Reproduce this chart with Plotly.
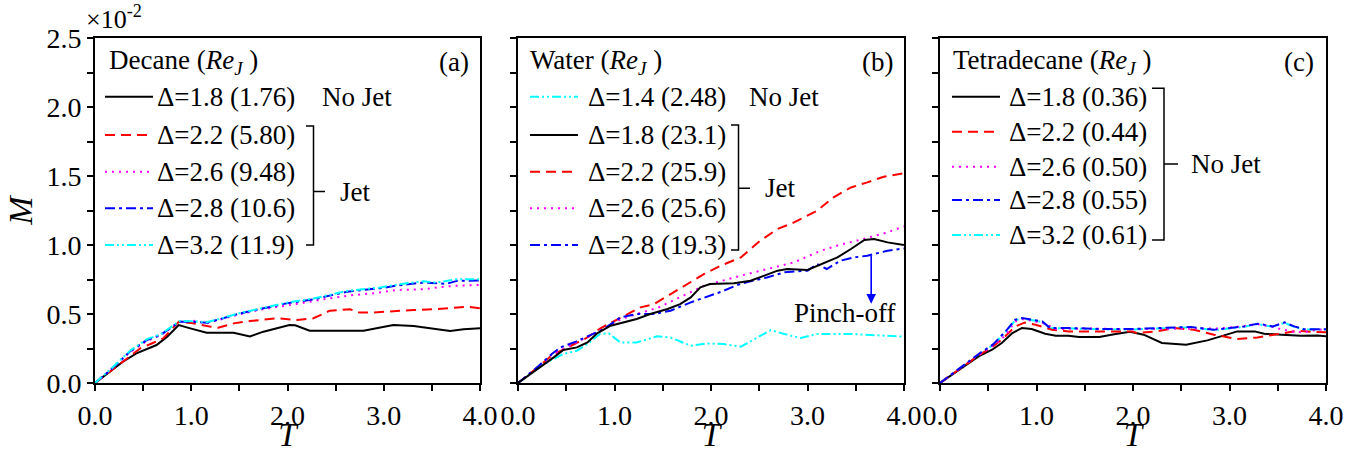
import plotly.graph_objects as go

# ---------------- data (M in units of 1e-2) ----------------
# Panel (a) Decane
a_T_18 = [0, 0.16, 0.29, 0.43, 0.54, 0.64, 0.75, 0.87, 0.99, 1.16, 1.44, 1.61, 1.75, 1.89, 2.02, 2.08, 2.23, 2.79, 2.95, 3.1, 3.31, 3.45, 3.69, 3.83, 4.0]
a_M_18 = [0, 0.082, 0.154, 0.215, 0.244, 0.275, 0.336, 0.42, 0.396, 0.364, 0.364, 0.338, 0.372, 0.396, 0.42, 0.418, 0.379, 0.379, 0.40, 0.42, 0.413, 0.401, 0.377, 0.39, 0.396]
a_T_22 = [0, 0.16, 0.3, 0.47, 0.6, 0.71, 0.87, 1.0, 1.19, 1.28, 1.44, 1.61, 1.89, 2.1, 2.27, 2.44, 2.65, 2.75, 2.86, 3.1, 3.31, 3.52, 3.72, 3.86, 4.0]
a_M_22 = [0, 0.085, 0.165, 0.251, 0.29, 0.324, 0.444, 0.435, 0.41, 0.40, 0.432, 0.449, 0.469, 0.457, 0.469, 0.524, 0.534, 0.51, 0.51, 0.522, 0.529, 0.534, 0.548, 0.553, 0.541]
a_T_26 = [0, 0.16, 0.36, 0.54, 0.68, 0.88, 1.02, 1.16, 1.33, 1.51, 1.75, 1.92, 2.2, 2.44, 2.65, 2.89, 3.13, 3.41, 3.65, 3.8, 4.0]
a_M_26 = [0, 0.092, 0.222, 0.305, 0.345, 0.446, 0.452, 0.432, 0.465, 0.5, 0.535, 0.553, 0.585, 0.614, 0.635, 0.65, 0.674, 0.679, 0.70, 0.706, 0.71]
a_T_28 = [0, 0.16, 0.36, 0.54, 0.68, 0.88, 1.02, 1.16, 1.33, 1.51, 1.75, 1.99, 2.27, 2.62, 2.96, 3.13, 3.41, 3.65, 3.76, 4.0]
a_M_28 = [0, 0.094, 0.227, 0.312, 0.348, 0.444, 0.444, 0.437, 0.469, 0.505, 0.541, 0.577, 0.606, 0.662, 0.686, 0.705, 0.728, 0.718, 0.74, 0.742]
a_T_32 = [0, 0.16, 0.36, 0.54, 0.68, 0.88, 1.02, 1.16, 1.33, 1.51, 1.75, 1.99, 2.27, 2.62, 2.96, 3.13, 3.41, 3.55, 3.76, 4.0]
a_M_32 = [0, 0.098, 0.232, 0.318, 0.352, 0.45, 0.448, 0.44, 0.472, 0.508, 0.545, 0.582, 0.612, 0.667, 0.692, 0.712, 0.738, 0.728, 0.752, 0.752]

# Panel (b) Water
b_T_14 = [0, 0.27, 0.47, 0.61, 0.72, 0.85, 0.94, 1.06, 1.23, 1.44, 1.58, 1.79, 1.96, 2.13, 2.31, 2.48, 2.62, 2.76, 2.93, 3.1, 3.45, 4.0]
b_M_14 = [0, 0.138, 0.21, 0.234, 0.283, 0.355, 0.36, 0.294, 0.294, 0.338, 0.33, 0.27, 0.287, 0.283, 0.263, 0.33, 0.384, 0.355, 0.326, 0.355, 0.355, 0.336]
b_T_18 = [0, 0.23, 0.37, 0.47, 0.61, 0.72, 0.82, 0.96, 1.1, 1.23, 1.37, 1.55, 1.68, 1.79, 1.89, 1.99, 2.24, 2.41, 2.69, 2.79, 3.0, 3.1, 3.31, 3.45, 3.59, 3.69, 3.83, 4.0]
b_M_18 = [0, 0.113, 0.186, 0.239, 0.258, 0.294, 0.36, 0.415, 0.439, 0.464, 0.5, 0.536, 0.572, 0.62, 0.693, 0.717, 0.722, 0.741, 0.814, 0.826, 0.819, 0.85, 0.91, 0.971, 1.036, 1.043, 1.019, 1.0]
b_T_22 = [0, 0.2, 0.35, 0.51, 0.72, 0.85, 1.05, 1.27, 1.41, 1.58, 1.75, 1.93, 2.1, 2.31, 2.51, 2.69, 2.86, 3.1, 3.27, 3.45, 3.62, 3.79, 4.0]
b_M_22 = [0, 0.11, 0.2, 0.258, 0.33, 0.395, 0.465, 0.548, 0.572, 0.645, 0.717, 0.79, 0.85, 0.91, 1.031, 1.116, 1.164, 1.249, 1.345, 1.417, 1.454, 1.495, 1.52]
b_T_26 = [0, 0.2, 0.35, 0.51, 0.72, 0.88, 1.06, 1.23, 1.45, 1.68, 1.93, 2.31, 2.58, 2.86, 3.14, 3.34, 3.62, 3.83, 4.0]
b_M_26 = [0, 0.11, 0.205, 0.26, 0.335, 0.39, 0.46, 0.5, 0.545, 0.62, 0.705, 0.778, 0.826, 0.874, 0.959, 1.002, 1.051, 1.092, 1.135]
b_T_28 = [0, 0.2, 0.35, 0.44, 0.6, 0.75, 0.89, 1.06, 1.23, 1.41, 1.58, 1.79, 1.96, 2.1, 2.31, 2.58, 2.76, 3.0, 3.1, 3.2, 3.34, 3.48, 3.62, 3.83, 4.0]
b_M_28 = [0, 0.115, 0.21, 0.258, 0.3, 0.345, 0.391, 0.475, 0.5, 0.5, 0.524, 0.584, 0.625, 0.66, 0.72, 0.765, 0.802, 0.814, 0.862, 0.826, 0.886, 0.91, 0.922, 0.959, 0.975]

# Panel (c) Tetradecane
c_T_18 = [0, 0.23, 0.4, 0.54, 0.64, 0.75, 0.85, 0.95, 1.09, 1.2, 1.33, 1.44, 1.65, 1.82, 1.97, 2.11, 2.3, 2.55, 2.77, 2.91, 3.08, 3.26, 3.36, 3.54, 3.74, 3.91, 4.0]
c_M_18 = [0, 0.109, 0.193, 0.241, 0.29, 0.362, 0.399, 0.391, 0.357, 0.343, 0.343, 0.333, 0.333, 0.355, 0.372, 0.35, 0.29, 0.277, 0.309, 0.338, 0.374, 0.374, 0.357, 0.35, 0.343, 0.345, 0.338]
c_T_22 = [0, 0.23, 0.4, 0.54, 0.64, 0.78, 0.88, 0.99, 1.16, 1.33, 1.6, 1.99, 2.04, 2.25, 2.43, 2.63, 2.84, 3.08, 3.29, 3.5, 3.71, 3.85, 4.0]
c_M_22 = [0, 0.112, 0.2, 0.26, 0.314, 0.41, 0.439, 0.422, 0.386, 0.374, 0.374, 0.374, 0.362, 0.374, 0.398, 0.386, 0.35, 0.319, 0.33, 0.357, 0.379, 0.37, 0.367]
c_T_26 = [0, 0.23, 0.4, 0.55, 0.68, 0.78, 0.85, 0.99, 1.09, 1.2, 1.5, 2.0, 2.6, 2.9, 3.12, 3.29, 3.45, 3.63, 3.77, 3.9, 4.0]
c_M_26 = [0, 0.115, 0.205, 0.27, 0.345, 0.446, 0.463, 0.446, 0.43, 0.39, 0.395, 0.39, 0.39, 0.395, 0.41, 0.427, 0.405, 0.374, 0.367, 0.385, 0.39]
c_T_28 = [0, 0.23, 0.4, 0.55, 0.68, 0.78, 0.85, 0.95, 1.06, 1.14, 1.33, 1.68, 1.99, 2.27, 2.6, 2.84, 3.0, 3.15, 3.29, 3.45, 3.57, 3.67, 3.77, 4.0]
c_M_28 = [0, 0.118, 0.21, 0.28, 0.374, 0.459, 0.471, 0.459, 0.446, 0.399, 0.399, 0.391, 0.391, 0.398, 0.406, 0.386, 0.398, 0.41, 0.43, 0.41, 0.439, 0.41, 0.39, 0.39]
c_T_32 = [0, 0.23, 0.4, 0.55, 0.68, 0.78, 0.85, 0.95, 1.06, 1.14, 1.33, 1.68, 1.99, 2.27, 2.6, 2.84, 3.0, 3.15, 3.29, 3.45, 3.57, 3.67, 3.77, 4.0]
c_M_32 = [0, 0.116, 0.207, 0.276, 0.37, 0.455, 0.467, 0.455, 0.442, 0.396, 0.396, 0.388, 0.388, 0.395, 0.403, 0.383, 0.395, 0.407, 0.427, 0.407, 0.436, 0.407, 0.387, 0.387]

panel_titles = ["Decane", "Water", "Tetradecane"]
panel_tags = ["(a)", "(b)", "(c)"]
a_labels = ["Δ=1.8 (1.76)", "Δ=2.2 (5.80)", "Δ=2.6 (9.48)", "Δ=2.8 (10.6)", "Δ=3.2 (11.9)"]
b_labels = ["Δ=1.4 (2.48)", "Δ=1.8 (23.1)", "Δ=2.2 (25.9)", "Δ=2.6 (25.6)", "Δ=2.8 (19.3)"]
c_labels = ["Δ=1.8 (0.36)", "Δ=2.2 (0.44)", "Δ=2.6 (0.50)", "Δ=2.8 (0.55)", "Δ=3.2 (0.61)"]
x_ticks = [0, 1, 2, 3, 4]
x_ticklabels = ["0.0", "1.0", "2.0", "3.0", "4.0"]
y_ticks = [0, 0.5, 1.0, 1.5, 2.0, 2.5]
y_ticklabels = ["0.0", "0.5", "1.0", "1.5", "2.0", "2.5"]

# ---------------- styles ----------------
FONT = "'Liberation Serif', 'Times New Roman', 'DejaVu Serif', serif"
W, H = 1348, 453
BLACK = dict(color="#000000", dash="solid")
RED = dict(color="#ff0000", dash="10px,6px")
MAG = dict(color="#ff00ff", dash="2px,5px")
BLUE = dict(color="#0000ff", dash="10px,4px,3px,4px")
CYAN = dict(color="#00ffff", dash="9px,3px,2px,3px,2px,3px")
LW = 2
LEG = 27

def px(x):
    return x / W

def py(y):
    return 1 - y / H

fig = go.Figure()

panels = [
    ("x", "y", [(a_T_18, a_M_18, BLACK), (a_T_22, a_M_22, RED), (a_T_26, a_M_26, MAG), (a_T_28, a_M_28, BLUE), (a_T_32, a_M_32, CYAN)]),
    ("x2", "y2", [(b_T_14, b_M_14, CYAN), (b_T_22, b_M_22, RED), (b_T_26, b_M_26, MAG), (b_T_28, b_M_28, BLUE), (b_T_18, b_M_18, BLACK)]),
    ("x3", "y3", [(c_T_32, c_M_32, CYAN), (c_T_18, c_M_18, BLACK), (c_T_22, c_M_22, RED), (c_T_26, c_M_26, MAG), (c_T_28, c_M_28, BLUE)]),
]
for xa, ya, series in panels:
    for T, M, st in series:
        fig.add_trace(go.Scatter(x=T, y=M, mode="lines", xaxis=xa, yaxis=ya, showlegend=False,
                                 line=dict(color=st["color"], dash=st["dash"], width=LW)))

# axes geometry (pixels)
dom_x = [(95, 480), (518, 904), (940, 1326)]
y_top, y_bot = 38, 383
ax_common = dict(showgrid=False, zeroline=False, showline=True, linecolor="black", linewidth=2,
                 mirror=True, ticks="outside", tickcolor="black", tickwidth=1.5, ticklen=6, automargin=False)
tickfont = dict(family=FONT, size=28, color="black")
for i, (x0, x1) in enumerate(dom_x):
    n = "" if i == 0 else str(i + 1)
    fig.layout["xaxis" + n] = dict(ax_common, domain=[px(x0), px(x1)], range=[0, 4], anchor="y" + n,
                                   tickvals=x_ticks, ticktext=x_ticklabels, tickfont=tickfont,
                                   minor=dict(dtick=0.5, ticks="outside", ticklen=6, tickwidth=1.5, tickcolor="black"),
                                   title=dict(text="<i>T</i>", font=dict(family=FONT, size=33, color="black"), standoff=4))
    fig.layout["yaxis" + n] = dict(ax_common, domain=[py(y_bot), py(y_top)], range=[0, 2.5], anchor="x" + n,
                                   tickvals=y_ticks, ticktext=y_ticklabels, tickfont=tickfont,
                                   showticklabels=(i == 0),
                                   minor=dict(dtick=0.25, ticks="outside", ticklen=6, tickwidth=1.5, tickcolor="black"))
fig.layout.yaxis.title = dict(text="<i>M</i>", font=dict(family=FONT, size=34, color="black"), standoff=4)

annotations = []
shapes = []

def text(x, y, s, anchor="left", size=LEG):
    annotations.append(dict(x=px(x), y=py(y), xref="paper", yref="paper", text=s, showarrow=False,
                            xanchor=anchor, yanchor="middle", font=dict(family=FONT, size=size, color="black")))

def sample(x0, x1, y, st):
    shapes.append(dict(type="line", xref="paper", yref="paper", x0=px(x0), x1=px(x1), y0=py(y), y1=py(y),
                       line=dict(color=st["color"], dash=st["dash"], width=LW)))

def bracket(x, xl, xr, yt, yb, ym):
    path = (f"M {px(xl)},{py(yt)} L {px(x)},{py(yt)} L {px(x)},{py(yb)} L {px(xl)},{py(yb)} "
            f"M {px(x)},{py(ym)} L {px(xr)},{py(ym)}")
    shapes.append(dict(type="path", xref="paper", yref="paper", path=path, line=dict(color="black", width=1.5)))

# x10^-2 multiplier
annotations.append(dict(x=px(84), y=py(36), xref="paper", yref="paper", text="×10<sup>-2</sup>", showarrow=False,
                        xanchor="left", yanchor="bottom", font=dict(family=FONT, size=26, color="black")))

legend_cfg = [
    dict(title_x=107, line=(105, 153), text_x=155, rows=[96.7, 135, 171.7, 208.3, 245], labels=a_labels,
         styles=[BLACK, RED, MAG, BLUE, CYAN], tag_x=471),
    dict(title_x=528, line=(530, 578), text_x=586, rows=[96.7, 135, 171.7, 208.3, 245], labels=b_labels,
         styles=[CYAN, BLACK, RED, MAG, BLUE], tag_x=895),
    dict(title_x=951, line=(952, 1000), text_x=1007, rows=[96.7, 131.7, 166.7, 200, 235], labels=c_labels,
         styles=[BLACK, RED, MAG, BLUE, CYAN], tag_x=1316),
]
for k, cfg in enumerate(legend_cfg):
    text(cfg["title_x"], 62, f"{panel_titles[k]} (<i>Re<sub>J</sub></i> )")
    text(cfg["tag_x"], 62, panel_tags[k], anchor="right")
    for r, lab, st in zip(cfg["rows"], cfg["labels"], cfg["styles"]):
        sample(cfg["line"][0], cfg["line"][1], r, st)
        text(cfg["text_x"], r, lab)

# group markers
text(320, 96.7, "No Jet")
bracket(313.5, 306, 325, 126, 245, 191.5)
text(338, 191.5, "Jet")
text(747, 96.7, "No Jet")
bracket(738.5, 731, 750, 125, 250, 188.3)
text(763, 188.3, "Jet")
bracket(1164, 1152, 1178, 88.3, 240, 164)
text(1189, 164, "No Jet")

# Pinch-off arrow in panel (b)
annotations.append(dict(x=3.66, y=0.575, ax=3.66, ay=0.935, xref="x2", yref="y2", axref="x2", ayref="y2",
                        text="", showarrow=True, arrowhead=2, arrowsize=1.2, arrowwidth=1.6, arrowcolor="#0000ff"))
annotations.append(dict(x=3.385, y=0.51, xref="x2", yref="y2", text="Pinch-off", showarrow=False,
                        xanchor="center", yanchor="middle", font=dict(family=FONT, size=LEG, color="black")))

fig.update_layout(width=W, height=H, margin=dict(l=0, r=0, t=0, b=0, autoexpand=False), paper_bgcolor="white",
                  plot_bgcolor="white", annotations=annotations, shapes=shapes, showlegend=False,
                  font=dict(family=FONT, color="black"))

fig.write_html("out.html", config={"displayModeBar": False},
               post_script="document.body.style.margin='0px';")
